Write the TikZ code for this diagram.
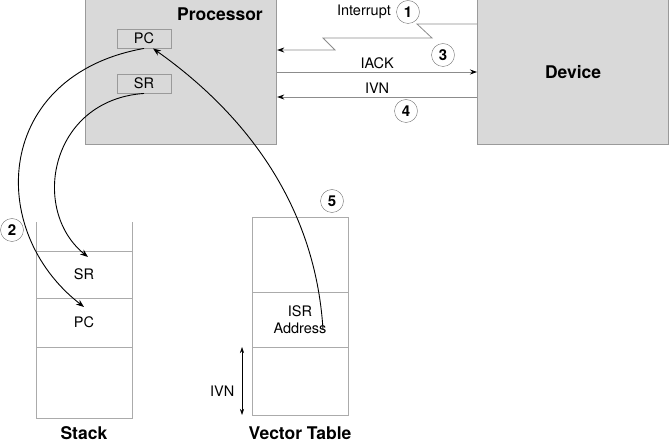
\documentclass[tikz,border=0pt]{standalone}
\usepackage{fontspec}
\setmainfont{TeX Gyre Heros}
\usetikzlibrary{arrows.meta, positioning}
\definecolor{boxgrey}{HTML}{D9D9D9}
\definecolor{edgegrey}{HTML}{9A9A9A}
\definecolor{linegrey}{HTML}{ABABAB}
\tikzset{
  node distance=6pt and 8pt,
  >={Stealth[length=8pt, width=6pt]},
  txt/.style={font=\fontsize{14.5}{17}\selectfont},
  ttl/.style={font=\fontsize{17.5}{20}\selectfont\bfseries},
  unit/.style={rectangle, draw=edgegrey, line width=1.2pt, fill=boxgrey, inner sep=0pt},
  reg/.style={unit, line width=0.9pt, minimum width=54pt, minimum height=19pt, txt},
  cell/.style={rectangle, draw=linegrey, line width=0.9pt, minimum width=96pt,
               inner sep=0pt, outer sep=0pt, align=center, txt},
  num/.style={circle, draw=black!55, fill=white, minimum size=23pt, inner sep=0pt,
              font=\fontsize{15}{17}\selectfont\bfseries},
  sig/.style={draw=black!45, line width=0.8pt, -{Stealth[length=7pt, width=5pt, black]}},
  hop/.style={->, draw=black, line width=0.9pt},
  span/.style={{Stealth[length=6pt, width=4pt]}-{Stealth[length=6pt, width=4pt]}, line width=0.6pt},
}
\begin{document}
\begin{tikzpicture}[x=1pt, y=-1pt]
      \useasboundingbox (0,0) rectangle (669,446);
      % processor and device
      \node[unit, minimum width=191pt, minimum height=146pt, anchor=north west] (proc) at (85,-2) {};
      \node[ttl] (proclbl) at (220,14) {Processor};
      \node[reg] (pc) at (144,38.5) {PC};
      \node[reg] (sr) at (144,83.5) {SR};
      \node[unit, ttl, minimum width=191pt, minimum height=146pt, anchor=north west] (dev) at (477,-2) {Device};
      % signals
      \node[num] (n1) at (408,12) {1};
      \node[txt, left=2pt of n1] (intlbl) {Interrupt};
      \draw[sig] (dev.west |- 0,24) -- ++(-60,0) -- ++(15,14) -- ++(-109,0) -- ++(12,12) -- (proc.east |- 0,50);
      \draw[sig] (proc.east |- 0,72) -- node[above, txt] (iack) {IACK} (dev.west |- 0,72);
      \node[num] (n3) at (443,55) {3};
      \draw[sig] (dev.west |- 0,97) -- node[above, txt] (ivn) {IVN} (proc.east |- 0,97);
      \node[num] (n4) at (406,111) {4};
      % stack
      \node[cell, minimum height=47pt] (ssr) at (84,274.5) {SR};
      \node[cell, minimum height=49pt, below=0pt of ssr] (spc) {PC};
      \node[cell, minimum height=71pt, below=0pt of spc] (sbot) {};
      \draw[linegrey, line width=0.9pt] (ssr.north west) -- ++(0,-29);
      \draw[linegrey, line width=0.9pt] (ssr.north east) -- ++(0,-29);
      \node[ttl, below=5pt of sbot] (stacklbl) {Stack};
      \node[num] (n2) at (12,230) {2};
      % vector table
      \node[cell, minimum height=75pt] (vtop) at (300,254.5) {};
      \node[cell, minimum height=55pt, below=0pt of vtop] (visr) {ISR\\Address};
      \node[cell, minimum height=68pt, below=0pt of visr] (vbot) {};
      \node[ttl, below=8pt of vbot] (vtlbl) {Vector Table};
      \node[num] (n5) at (332,201) {5};
      \draw[span] ([xshift=-10pt]vbot.north west) -- node[pos=0.65, left=4pt, txt] (ivn2) {IVN} ([xshift=-10pt]vbot.south west);
      % saving and loading
      \draw[hop] (pc.south) .. controls (-5,75) and (-15,230) .. ([yshift=-9pt]spc.north);
      \draw[hop] (sr.south) .. controls (50,100) and (30,210) .. ([xshift=4pt, yshift=-6pt]ssr.north);
      \draw[hop] ([xshift=23pt, yshift=-10pt]visr.center) .. controls (315,200) and (240,110) .. ([xshift=9pt]pc.south);
    \end{tikzpicture}
\end{document}
